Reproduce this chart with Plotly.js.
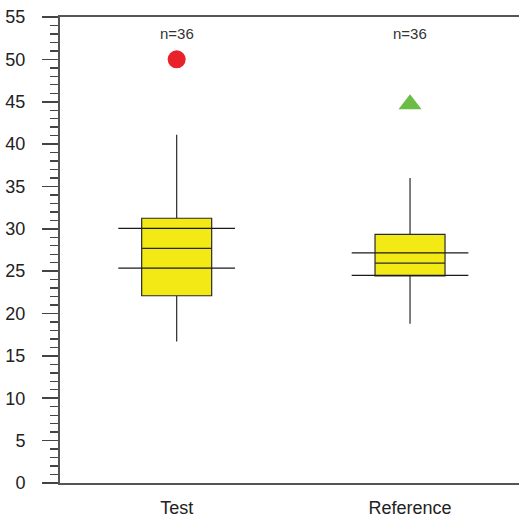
<!DOCTYPE html>
<html>
<head>
<meta charset="utf-8">
<script src="https://cdn.plot.ly/plotly-3.0.1.min.js"></script>
<style>html,body{margin:0;padding:0;overflow:hidden;background:#fff}</style>
</head>
<body>
<div id="chart" style="width:519px;height:520px"></div>
<script>
// Data
const categories = ["Test", "Reference"];
const nCounts = [36, 36];
const q1Values = [22.1, 24.45];
const medianValues = [27.7, 25.95];
const q3Values = [31.25, 29.35];
const lowerWhisker = [16.7, 18.8];
const upperWhisker = [41.1, 36.0];
const ciLower = [25.35, 24.5];
const ciUpper = [30.05, 27.15];
const outlierValues = [50.0, 44.7];
const outlierSymbols = ["circle", "triangle-up"];
const outlierColors = ["#e8212a", "#6cbd45"];

const pos = categories.map((c, i) => i);
const halfCI = 0.25;

const traces = [];
traces.push({
  type: "box",
  x: pos,
  q1: q1Values,
  median: medianValues,
  q3: q3Values,
  lowerfence: lowerWhisker,
  upperfence: upperWhisker,
  width: 0.3,
  whiskerwidth: 0,
  boxpoints: false,
  fillcolor: "#f3e914",
  line: {color: "#2a2a2a", width: 1.2},
  hoverinfo: "skip",
  showlegend: false
});
// mean-CI style horizontal lines
categories.forEach((c, i) => {
  [ciLower[i], ciUpper[i]].forEach(v => {
    traces.push({
      type: "scatter", mode: "lines",
      x: [pos[i] - halfCI, pos[i] + halfCI], y: [v, v],
      line: {color: "#1a1a1a", width: 1.3},
      hoverinfo: "skip", showlegend: false
    });
  });
  traces.push({
    type: "scatter", mode: "markers",
    x: [pos[i]], y: [outlierValues[i]],
    marker: {symbol: outlierSymbols[i], color: outlierColors[i], size: outlierSymbols[i] === "circle" ? 18 : 20, line: {width: 0}},
    hoverinfo: "skip", showlegend: false
  });
});

const annotations = categories.map((c, i) => ({
  x: pos[i], y: 53.1, xref: "x", yref: "y",
  text: "n=" + nCounts[i], showarrow: false,
  font: {family: "Liberation Sans, Arial, sans-serif", size: 15, color: "#333"}
}));

const layout = {
  width: 519, height: 520,
  margin: {l: 60, r: 0, t: 17, b: 37, pad: 0},
  paper_bgcolor: "#fff", plot_bgcolor: "#fff",
  font: {family: "Liberation Sans, Arial, sans-serif", color: "#222"},
  xaxis: {
    range: [-0.5, 1.467],
    tickmode: "array", tickvals: pos, ticktext: categories,
    ticks: "", showgrid: false, zeroline: false,
    showline: true, mirror: true, linecolor: "#555", linewidth: 2,
    tickfont: {size: 18, color: "#222"},
    ticklabelstandoff: 7,
    fixedrange: true
  },
  yaxis: {
    range: [0, 55], dtick: 5, tick0: 0,
    ticks: "outside", ticklen: 16, tickwidth: 1.6, tickcolor: "#444",
    minor: {dtick: 1, ticks: "outside", ticklen: 8, tickwidth: 1.4, tickcolor: "#444"},
    showgrid: false, zeroline: false,
    showline: true, linecolor: "#555", linewidth: 2,
    tickfont: {size: 18, color: "#222"},
    ticklabelstandoff: 13,
    fixedrange: true
  },
  annotations: annotations,
  showlegend: false
};

Plotly.newPlot("chart", traces, layout, {displayModeBar: false, staticPlot: true});
</script>
</body>
</html>
